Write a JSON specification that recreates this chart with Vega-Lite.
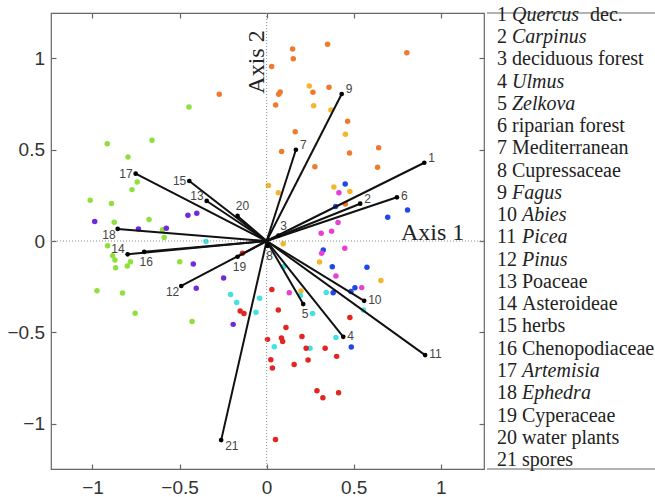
{
  "$schema": "https://vega.github.io/schema/vega-lite/v6.json",
  "background": "white",
  "padding": {"left": 6, "top": 4, "right": 0, "bottom": 0},
  "spacing": 0,
  "datasets": {
    "pts": [
      {"x": -0.272, "y": 0.803, "g": "A"}, {"x": 0.029, "y": 0.954, "g": "A"}, {"x": 0.149, "y": 1.050, "g": "A"}, {"x": 0.153, "y": 0.997, "g": "A"}, {"x": 0.350, "y": 1.076, "g": "A"}, {"x": 0.805, "y": 1.030, "g": "A"}, {"x": 0.069, "y": 0.803, "g": "A"}, {"x": 0.078, "y": 0.815, "g": "A"}, {"x": 0.052, "y": 0.744, "g": "A"}, {"x": 0.266, "y": 0.813, "g": "A"}, {"x": 0.358, "y": 0.841, "g": "A"}, {"x": 0.164, "y": 0.598, "g": "A"}, {"x": 0.086, "y": 0.489, "g": "A"}, {"x": 0.277, "y": 0.406, "g": "A"}, {"x": 0.465, "y": 0.655, "g": "A"}, {"x": 0.476, "y": 0.481, "g": "A"}, {"x": 0.643, "y": 0.510, "g": "A"}, {"x": 0.637, "y": 0.403, "g": "A"}, {"x": 0.452, "y": 0.202, "g": "A"},
      {"x": 0.245, "y": 0.848, "g": "B"}, {"x": 0.270, "y": 0.740, "g": "B"}, {"x": 0.369, "y": 0.717, "g": "B"}, {"x": 0.452, "y": 0.584, "g": "B"}, {"x": 0.010, "y": 0.304, "g": "B"}, {"x": 0.067, "y": 0.264, "g": "B"}, {"x": 0.386, "y": 0.295, "g": "B"}, {"x": 0.478, "y": 0.271, "g": "B"}, {"x": 0.095, "y": -0.015, "g": "B"}, {"x": 0.304, "y": -0.115, "g": "B"}, {"x": 0.656, "y": -0.216, "g": "B"}, {"x": 0.197, "y": -0.274, "g": "B"},
      {"x": 0.451, "y": 0.312, "g": "C"}, {"x": 0.396, "y": 0.189, "g": "C"}, {"x": 0.809, "y": 0.170, "g": "C"}, {"x": 0.695, "y": 0.130, "g": "C"}, {"x": 0.325, "y": -0.049, "g": "C"}, {"x": 0.377, "y": -0.141, "g": "C"}, {"x": 0.576, "y": -0.144, "g": "C"}, {"x": 0.382, "y": -0.283, "g": "C"}, {"x": 0.484, "y": -0.276, "g": "C"}, {"x": 0.507, "y": -0.256, "g": "C"}, {"x": 0.486, "y": -0.580, "g": "C"},
      {"x": 0.415, "y": 0.264, "g": "D"}, {"x": 0.410, "y": 0.101, "g": "D"}, {"x": 0.373, "y": 0.054, "g": "D"}, {"x": 0.313, "y": 0.042, "g": "D"}, {"x": 0.449, "y": -0.040, "g": "D"}, {"x": 0.316, "y": -0.067, "g": "D"}, {"x": 0.398, "y": -0.191, "g": "D"}, {"x": 0.130, "y": -0.283, "g": "D"}, {"x": 0.546, "y": -0.255, "g": "D"},
      {"x": -0.446, "y": 0.733, "g": "E"}, {"x": -0.658, "y": 0.551, "g": "E"}, {"x": -0.915, "y": 0.532, "g": "E"}, {"x": -0.796, "y": 0.460, "g": "E"}, {"x": -0.743, "y": 0.323, "g": "E"}, {"x": -0.773, "y": 0.281, "g": "E"}, {"x": -1.013, "y": 0.223, "g": "E"}, {"x": -0.891, "y": 0.205, "g": "E"}, {"x": -0.875, "y": 0.102, "g": "E"}, {"x": -0.675, "y": 0.118, "g": "E"}, {"x": -0.598, "y": 0.061, "g": "E"}, {"x": -0.588, "y": 0.019, "g": "E"}, {"x": -0.913, "y": -0.026, "g": "E"}, {"x": -0.884, "y": -0.080, "g": "E"}, {"x": -0.871, "y": -0.104, "g": "E"}, {"x": -0.867, "y": -0.146, "g": "E"}, {"x": -0.800, "y": -0.137, "g": "E"}, {"x": -0.782, "y": -0.113, "g": "E"}, {"x": -0.499, "y": -0.113, "g": "E"}, {"x": -0.974, "y": -0.272, "g": "E"}, {"x": -0.827, "y": -0.284, "g": "E"}, {"x": -0.755, "y": -0.395, "g": "E"}, {"x": -0.428, "y": -0.440, "g": "E"},
      {"x": -0.987, "y": 0.107, "g": "F"}, {"x": -0.452, "y": 0.141, "g": "F"}, {"x": -0.401, "y": 0.152, "g": "F"}, {"x": -0.736, "y": 0.066, "g": "F"}, {"x": -0.576, "y": 0.070, "g": "F"}, {"x": -0.421, "y": -0.126, "g": "F"}, {"x": -0.404, "y": -0.259, "g": "F"}, {"x": -0.247, "y": -0.202, "g": "F"}, {"x": -0.192, "y": -0.456, "g": "F"},
      {"x": -0.348, "y": -0.003, "g": "G"}, {"x": 0.096, "y": -0.141, "g": "G"}, {"x": -0.207, "y": -0.292, "g": "G"}, {"x": -0.172, "y": -0.336, "g": "G"}, {"x": -0.040, "y": -0.313, "g": "G"}, {"x": -0.061, "y": -0.390, "g": "G"}, {"x": 0.194, "y": -0.298, "g": "G"}, {"x": 0.264, "y": -0.396, "g": "G"}, {"x": 0.342, "y": -0.281, "g": "G"}, {"x": 0.044, "y": -0.578, "g": "G"}, {"x": 0.249, "y": -0.587, "g": "G"}, {"x": 0.398, "y": -0.528, "g": "G"}, {"x": 0.556, "y": -0.377, "g": "G"},
      {"x": -0.139, "y": -0.067, "g": "H"}, {"x": -0.152, "y": -0.383, "g": "H"}, {"x": -0.130, "y": -0.397, "g": "H"}, {"x": 0.030, "y": -0.265, "g": "H"}, {"x": 0.067, "y": -0.377, "g": "H"}, {"x": 0.111, "y": -0.473, "g": "H"}, {"x": 0.005, "y": -0.538, "g": "H"}, {"x": 0.085, "y": -0.530, "g": "H"}, {"x": 0.092, "y": -0.550, "g": "H"}, {"x": 0.203, "y": -0.522, "g": "H"}, {"x": 0.227, "y": -0.587, "g": "H"}, {"x": 0.336, "y": -0.587, "g": "H"}, {"x": 0.402, "y": -0.631, "g": "H"}, {"x": 0.024, "y": -0.650, "g": "H"}, {"x": 0.033, "y": -0.695, "g": "H"}, {"x": 0.158, "y": -0.676, "g": "H"}, {"x": 0.238, "y": -0.651, "g": "H"}, {"x": 0.289, "y": -0.819, "g": "H"}, {"x": 0.323, "y": -0.857, "g": "H"}, {"x": 0.413, "y": -0.830, "g": "H"}, {"x": 0.051, "y": -1.086, "g": "H"}, {"x": 0.478, "y": -0.418, "g": "H"}
    ],
    "vec": [
      {"id": 1, "x": 0.905, "y": 0.428, "name": "Quercus", "it": true},
      {"id": 2, "x": 0.537, "y": 0.204, "name": "Carpinus", "it": true},
      {"id": 3, "x": 0.068, "y": 0.030, "name": "deciduous forest", "it": false},
      {"id": 4, "x": 0.440, "y": -0.524, "name": "Ulmus", "it": true},
      {"id": 5, "x": 0.210, "y": -0.345, "name": "Zelkova", "it": true},
      {"id": 6, "x": 0.748, "y": 0.239, "name": "riparian forest", "it": false},
      {"id": 7, "x": 0.168, "y": 0.499, "name": "Mediterranean", "it": false},
      {"id": 8, "x": 0.005, "y": -0.027, "name": "Cupressaceae", "it": false},
      {"id": 9, "x": 0.431, "y": 0.804, "name": "Fagus", "it": true},
      {"id": 10, "x": 0.560, "y": -0.327, "name": "Abies", "it": true},
      {"id": 11, "x": 0.910, "y": -0.624, "name": "Picea", "it": true},
      {"id": 12, "x": -0.490, "y": -0.246, "name": "Pinus", "it": true},
      {"id": 13, "x": -0.344, "y": 0.219, "name": "Poaceae", "it": false},
      {"id": 14, "x": -0.798, "y": -0.073, "name": "Asteroideae", "it": false},
      {"id": 15, "x": -0.444, "y": 0.328, "name": "herbs", "it": false},
      {"id": 16, "x": -0.703, "y": -0.059, "name": "Chenopodiaceae", "it": false},
      {"id": 17, "x": -0.752, "y": 0.368, "name": "Artemisia", "it": true},
      {"id": 18, "x": -0.855, "y": 0.066, "name": "Ephedra", "it": true},
      {"id": 19, "x": -0.167, "y": -0.086, "name": "Cyperaceae", "it": false},
      {"id": 20, "x": -0.167, "y": 0.137, "name": "water plants", "it": false},
      {"id": 21, "x": -0.261, "y": -1.089, "name": "spores", "it": false}
    ]
  },
  "hconcat": [
    {
      "width": 433,
      "height": 456,
      "resolve": {"axis": {"x": "independent", "y": "independent"}},
      "layer": [
        {
          "data": {"name": "pts"},
          "mark": {"type": "circle", "size": 30, "opacity": 1},
          "encoding": {
            "x": {"field": "x", "type": "quantitative", "scale": {"domain": [-1.238, 1.248], "nice": false, "zero": false},
                  "axis": {"orient": "bottom", "values": [-1, -0.5, 0, 0.5, 1], "format": "~g", "title": null}},
            "y": {"field": "y", "type": "quantitative", "scale": {"domain": [-1.247, 1.247], "nice": false, "zero": false},
                  "axis": {"orient": "left", "values": [-1, -0.5, 0, 0.5, 1], "format": "~g", "title": null}},
            "color": {"field": "g", "type": "nominal", "legend": null,
                      "scale": {"domain": ["A", "B", "C", "D", "E", "F", "G", "H"],
                                "range": ["#ef7a2e", "#f4b62c", "#2048e6", "#e83ed2", "#8fe03c", "#7029dd", "#3fe2e6", "#e42420"]}}
          }
        },
        {
          "data": {"values": [{}]},
          "mark": {"type": "rule", "stroke": "#8a8a8a", "strokeWidth": 1, "strokeDash": [1, 2]},
          "encoding": {
            "x": {"datum": 0, "type": "quantitative", "scale": {"domain": [-1.238, 1.248], "nice": false, "zero": false},
                  "axis": {"orient": "top", "values": [-1, -0.5, 0, 0.5, 1], "labels": false, "title": null}}
          }
        },
        {
          "data": {"values": [{}]},
          "mark": {"type": "rule", "stroke": "#8a8a8a", "strokeWidth": 1, "strokeDash": [1, 2]},
          "encoding": {
            "y": {"datum": 0, "type": "quantitative", "scale": {"domain": [-1.247, 1.247], "nice": false, "zero": false},
                  "axis": {"orient": "right", "values": [-1, -0.5, 0, 0.5, 1], "labels": false, "title": null}}
          }
        },
        {
          "data": {"name": "vec"},
          "mark": {"type": "rule", "stroke": "#111111", "strokeWidth": 2},
          "encoding": {
            "x": {"field": "x", "type": "quantitative", "axis": null},
            "y": {"field": "y", "type": "quantitative", "axis": null},
            "x2": {"datum": 0},
            "y2": {"datum": 0}
          }
        },
        {
          "data": {"name": "vec"},
          "mark": {"type": "circle", "size": 22, "color": "#000000", "opacity": 1},
          "encoding": {
            "x": {"field": "x", "type": "quantitative", "axis": null},
            "y": {"field": "y", "type": "quantitative", "axis": null}
          }
        },
        {
          "data": {"name": "vec"},
          "transform": [{"filter": {"field": "id", "oneOf": [1, 2, 7, 9]}}],
          "mark": {"type": "text", "align": "left", "baseline": "middle", "dx": 4, "dy": -5, "font": "Liberation Sans", "fontSize": 12, "color": "#444444"},
          "encoding": {"x": {"field": "x", "type": "quantitative", "axis": null}, "y": {"field": "y", "type": "quantitative", "axis": null}, "text": {"field": "id", "type": "nominal"}}
        },
        {
          "data": {"name": "vec"},
          "transform": [{"filter": {"field": "id", "oneOf": [4, 6, 10, 11]}}],
          "mark": {"type": "text", "align": "left", "baseline": "middle", "dx": 4, "dy": -1, "font": "Liberation Sans", "fontSize": 12, "color": "#444444"},
          "encoding": {"x": {"field": "x", "type": "quantitative", "axis": null}, "y": {"field": "y", "type": "quantitative", "axis": null}, "text": {"field": "id", "type": "nominal"}}
        },
        {
          "data": {"name": "vec"},
          "transform": [{"filter": {"field": "id", "oneOf": [3, 20]}}],
          "mark": {"type": "text", "align": "center", "baseline": "middle", "dx": 5, "dy": -10, "font": "Liberation Sans", "fontSize": 12, "color": "#444444"},
          "encoding": {"x": {"field": "x", "type": "quantitative", "axis": null}, "y": {"field": "y", "type": "quantitative", "axis": null}, "text": {"field": "id", "type": "nominal"}}
        },
        {
          "data": {"name": "vec"},
          "transform": [{"filter": {"field": "id", "oneOf": [5, 8, 16, 19]}}],
          "mark": {"type": "text", "align": "center", "baseline": "middle", "dx": 2, "dy": 10, "font": "Liberation Sans", "fontSize": 12, "color": "#444444"},
          "encoding": {"x": {"field": "x", "type": "quantitative", "axis": null}, "y": {"field": "y", "type": "quantitative", "axis": null}, "text": {"field": "id", "type": "nominal"}}
        },
        {
          "data": {"name": "vec"},
          "transform": [{"filter": {"field": "id", "oneOf": [13, 14]}}],
          "mark": {"type": "text", "align": "right", "baseline": "middle", "dx": -3, "dy": -5, "font": "Liberation Sans", "fontSize": 12, "color": "#444444"},
          "encoding": {"x": {"field": "x", "type": "quantitative", "axis": null}, "y": {"field": "y", "type": "quantitative", "axis": null}, "text": {"field": "id", "type": "nominal"}}
        },
        {
          "data": {"name": "vec"},
          "transform": [{"filter": {"field": "id", "oneOf": [15, 17]}}],
          "mark": {"type": "text", "align": "right", "baseline": "middle", "dx": -3, "dy": 0, "font": "Liberation Sans", "fontSize": 12, "color": "#444444"},
          "encoding": {"x": {"field": "x", "type": "quantitative", "axis": null}, "y": {"field": "y", "type": "quantitative", "axis": null}, "text": {"field": "id", "type": "nominal"}}
        },
        {
          "data": {"name": "vec"},
          "transform": [{"filter": {"field": "id", "oneOf": [12, 18]}}],
          "mark": {"type": "text", "align": "right", "baseline": "middle", "dx": -2, "dy": 6, "font": "Liberation Sans", "fontSize": 12, "color": "#444444"},
          "encoding": {"x": {"field": "x", "type": "quantitative", "axis": null}, "y": {"field": "y", "type": "quantitative", "axis": null}, "text": {"field": "id", "type": "nominal"}}
        },
        {
          "data": {"name": "vec"},
          "transform": [{"filter": {"field": "id", "oneOf": [21]}}],
          "mark": {"type": "text", "align": "left", "baseline": "middle", "dx": 4, "dy": 6, "font": "Liberation Sans", "fontSize": 12, "color": "#444444"},
          "encoding": {"x": {"field": "x", "type": "quantitative", "axis": null}, "y": {"field": "y", "type": "quantitative", "axis": null}, "text": {"field": "id", "type": "nominal"}}
        },
        {
          "data": {"values": [{}]},
          "mark": {"type": "text", "align": "left", "baseline": "alphabetic", "dy": -1, "font": "Liberation Serif", "fontSize": 24, "color": "#222222"},
          "encoding": {"x": {"datum": 0.771, "type": "quantitative", "axis": null}, "y": {"datum": 0, "type": "quantitative", "axis": null}, "text": {"value": "Axis 1"}}
        },
        {
          "data": {"values": [{}]},
          "mark": {"type": "text", "align": "left", "baseline": "alphabetic", "angle": 270, "font": "Liberation Serif", "fontSize": 24, "color": "#222222"},
          "encoding": {"x": {"datum": -0.015, "type": "quantitative", "axis": null}, "y": {"datum": 0.806, "type": "quantitative", "axis": null}, "text": {"value": "Axis 2"}}
        }
      ]
    },
    {
      "width": 170,
      "height": 456,
      "view": {"stroke": null},
      "layer": [
        {
          "data": {"values": [{}]},
          "mark": {"type": "rule", "stroke": "#666666", "strokeWidth": 1.2},
          "encoding": {"y": {"datum": 0.654, "type": "quantitative", "scale": {"domain": [0.654, 21.13], "reverse": true, "nice": false, "zero": false}, "axis": null}}
        },
        {
          "data": {"values": [{}]},
          "mark": {"type": "rule", "stroke": "#666666", "strokeWidth": 1.2},
          "encoding": {"y": {"datum": 21.13, "type": "quantitative", "axis": null}}
        },
        {
          "data": {"name": "vec"},
          "mark": {"type": "text", "align": "left", "baseline": "alphabetic", "font": "Liberation Serif", "fontSize": 20, "color": "#222222"},
          "encoding": {
            "x": {"datum": 10, "type": "quantitative", "scale": {"domain": [0, 170], "nice": false, "zero": false}, "axis": null},
            "y": {"field": "id", "type": "quantitative", "axis": null},
            "text": {"field": "id", "type": "nominal"}
          }
        },
        {
          "data": {"name": "vec"},
          "transform": [{"filter": "datum.it && datum.id < 10"}],
          "mark": {"type": "text", "align": "left", "baseline": "alphabetic", "dx": 15, "font": "Liberation Serif", "fontStyle": "italic", "fontSize": 20, "color": "#222222"},
          "encoding": {"x": {"datum": 10, "type": "quantitative", "axis": null}, "y": {"field": "id", "type": "quantitative", "axis": null}, "text": {"field": "name", "type": "nominal"}}
        },
        {
          "data": {"name": "vec"},
          "transform": [{"filter": "datum.it && datum.id >= 10"}],
          "mark": {"type": "text", "align": "left", "baseline": "alphabetic", "dx": 25, "font": "Liberation Serif", "fontStyle": "italic", "fontSize": 20, "color": "#222222"},
          "encoding": {"x": {"datum": 10, "type": "quantitative", "axis": null}, "y": {"field": "id", "type": "quantitative", "axis": null}, "text": {"field": "name", "type": "nominal"}}
        },
        {
          "data": {"name": "vec"},
          "transform": [{"filter": "!datum.it && datum.id < 10"}],
          "mark": {"type": "text", "align": "left", "baseline": "alphabetic", "dx": 15, "font": "Liberation Serif", "fontSize": 20, "color": "#222222"},
          "encoding": {"x": {"datum": 10, "type": "quantitative", "axis": null}, "y": {"field": "id", "type": "quantitative", "axis": null}, "text": {"field": "name", "type": "nominal"}}
        },
        {
          "data": {"name": "vec"},
          "transform": [{"filter": "!datum.it && datum.id >= 10"}],
          "mark": {"type": "text", "align": "left", "baseline": "alphabetic", "dx": 25, "font": "Liberation Serif", "fontSize": 20, "color": "#222222"},
          "encoding": {"x": {"datum": 10, "type": "quantitative", "axis": null}, "y": {"field": "id", "type": "quantitative", "axis": null}, "text": {"field": "name", "type": "nominal"}}
        },
        {
          "data": {"name": "vec"},
          "transform": [{"filter": "datum.id == 1"}],
          "mark": {"type": "text", "align": "left", "baseline": "alphabetic", "dx": 93, "font": "Liberation Serif", "fontSize": 20, "color": "#222222"},
          "encoding": {"x": {"datum": 10, "type": "quantitative", "axis": null}, "y": {"field": "id", "type": "quantitative", "axis": null}, "text": {"value": "dec."}}
        }
      ]
    }
  ],
  "config": {
    "view": {"stroke": "#666666", "strokeWidth": 1.2},
    "axis": {"domain": false, "grid": false, "ticks": true, "tickSize": -5, "tickColor": "#666666", "tickWidth": 1.2,
             "labelFont": "Liberation Sans", "labelFontSize": 19, "labelColor": "#333333"},
    "axisX": {"labelPadding": 14.5},
    "axisY": {"labelPadding": 11.5}
  }
}
